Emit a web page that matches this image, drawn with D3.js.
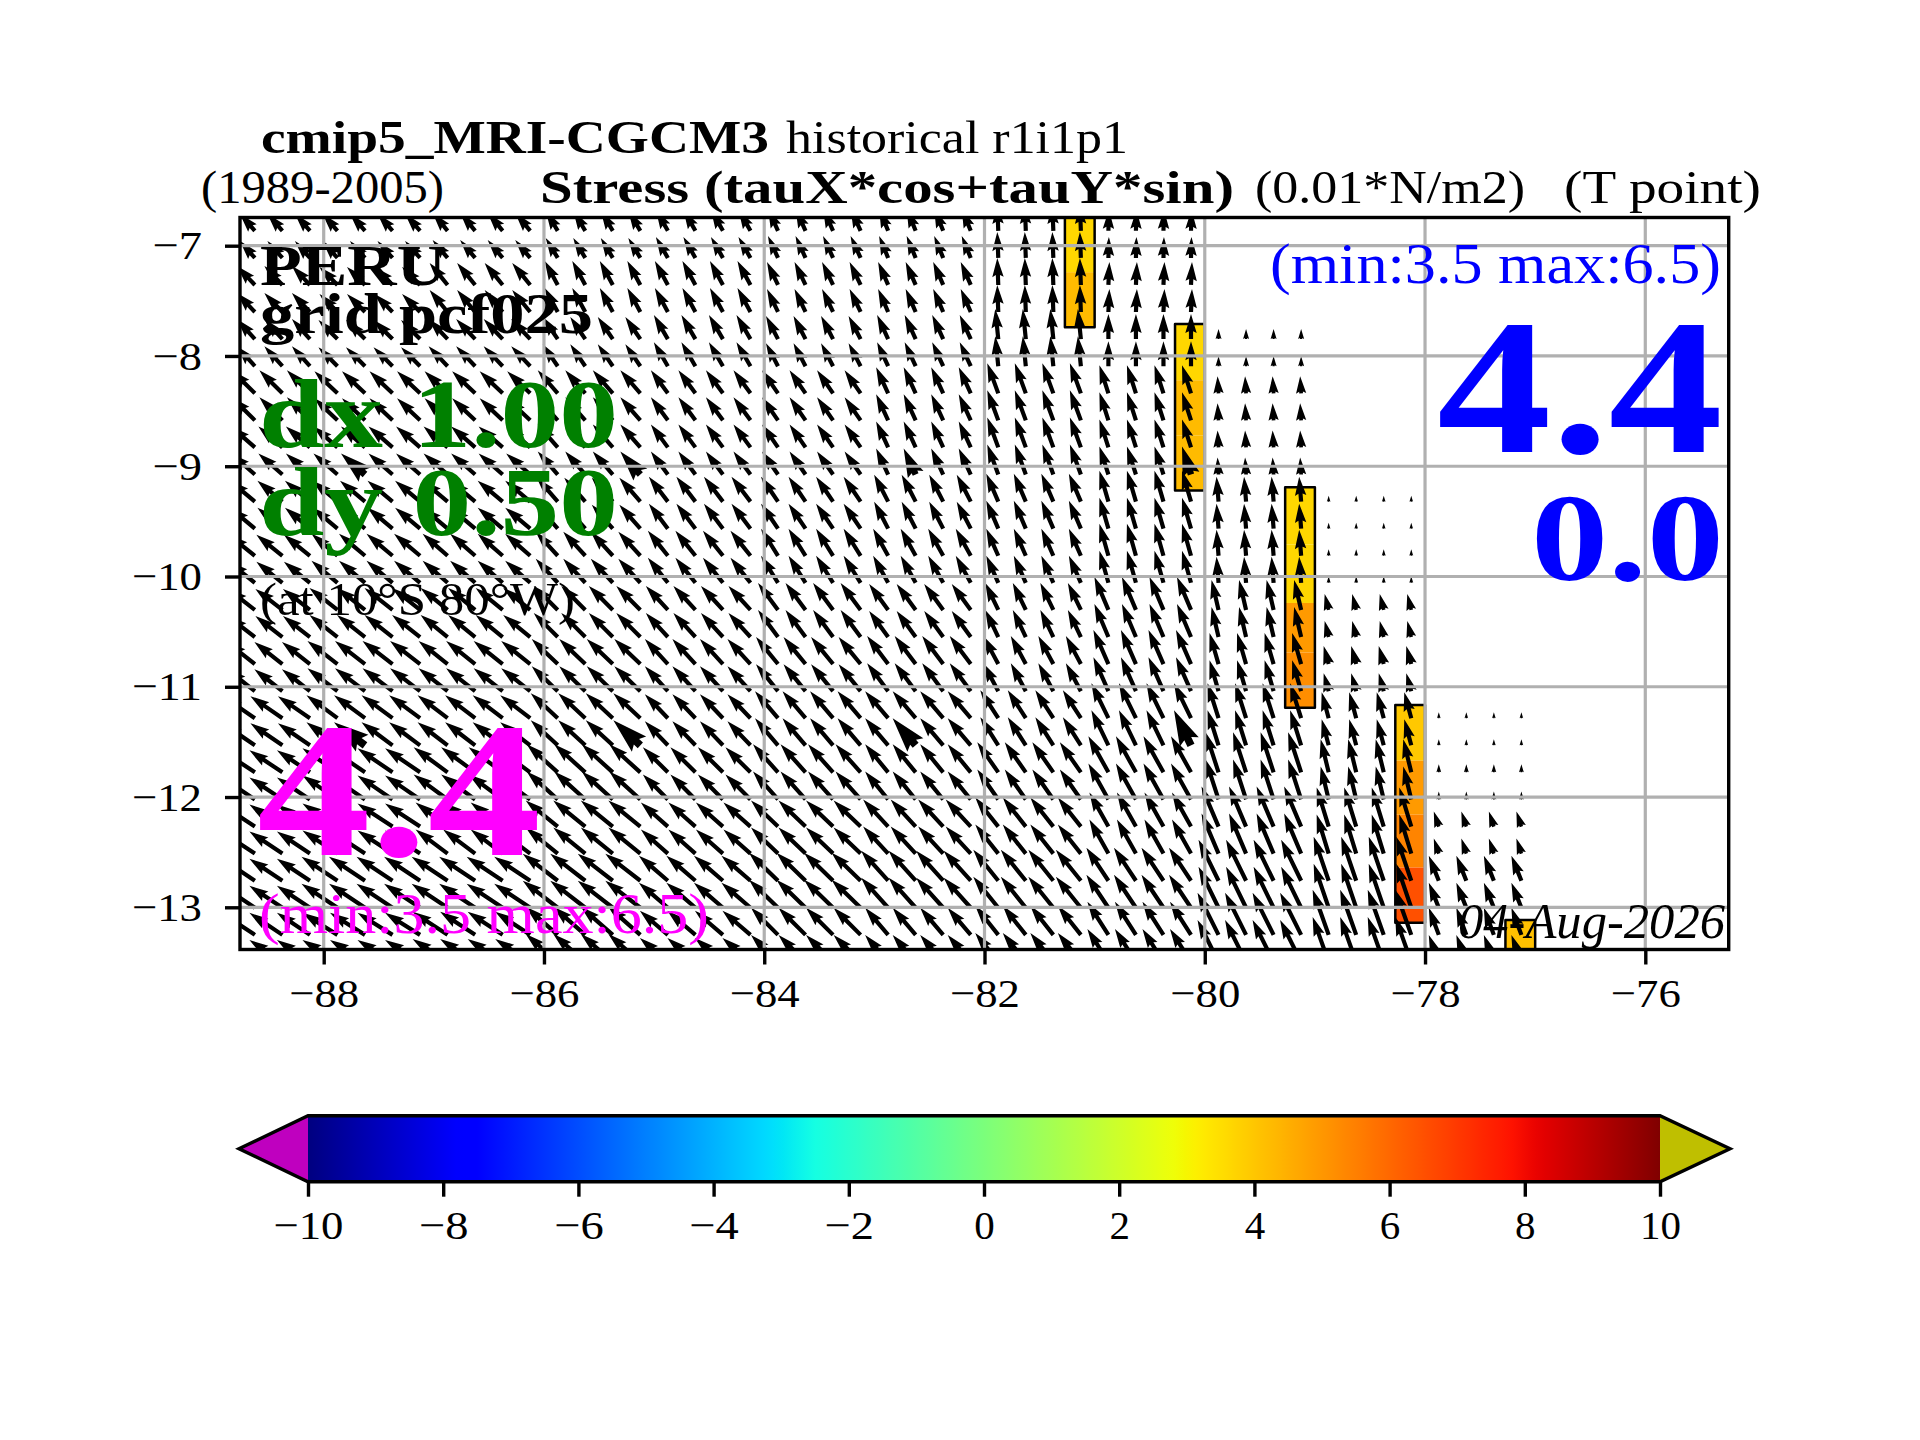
<!DOCTYPE html>
<html>
<head>
<meta charset="utf-8">
<style>
  body { margin: 0; background: #fff; }
  text { font-family: "Liberation Serif", serif; }
</style>
<script src="https://cdn.jsdelivr.net/npm/d3@7"></script>
</head>
<body>
<div id="chart"></div>
<script>
// western edge of each 1 x 0.5 degree cell
var cellLons = [-89, -88, -87, -86, -85, -84, -83, -82, -81, -80, -79, -78];
var colOffsets = [0.125, 0.375, 0.625, 0.875];

// arrow tail latitudes, two rows per band
var rowLats = [-6.865, -7.111, -7.356, -7.601, -7.847, -8.093, -8.339, -8.584, -8.829, -9.075,
  -9.321, -9.566, -9.812, -10.057, -10.303, -10.549, -10.794, -11.040, -11.285, -11.531,
  -11.776, -12.022, -12.268, -12.513, -12.759, -13.004, -13.250, -13.496];

// wind stress components per band (rows) and cell (columns)
var _ = null;
var tauX = [
  [-1.5, -1.5, -1.5, -1.2, -1.2, -1.0, -0.9, -0.1, 0.05, _, _, _],
  [-1.8, -1.8, -1.8, -1.3, -1.3, -1.1, -1.0, -0.1, 0.1, _, _, _],
  [-1.8, -1.9, -1.9, -1.5, -1.4, -1.2, -1.1, -0.3, 0, 0, _, _],
  [-2.3, -2.3, -2.3, -2.0, -1.7, -1.6, -1.2, -1.1, -0.9, -0.1, _, _],
  [-2.4, -2.4, -2.4, -2.0, -1.7, -1.6, -1.2, -1.1, -0.9, -0.1, _, _],
  [-2.5, -2.5, -2.5, -2.1, -1.9, -1.7, -1.4, -1.2, -0.9, -0.2, 0, _],
  [-2.6, -2.6, -2.5, -2.2, -2.0, -1.7, -1.5, -1.2, -0.9, -0.2, 0, _],
  [-2.7, -2.8, -2.7, -2.4, -2.2, -2.0, -1.9, -1.3, -1.4, -0.7, -0.4, _],
  [-2.8, -3.0, -2.9, -2.6, -2.3, -2.2, -2.1, -1.5, -1.5, -0.9, -0.5, _],
  [-3.2, -3.1, -3.0, -2.7, -2.3, -2.3, -2.3, -1.8, -1.7, -1.1, -0.7, 0],
  [-3.3, -3.5, -3.4, -3.1, -2.5, -2.5, -2.3, -2.1, -2.0, -1.3, -0.8, 0],
  [-3.3, -3.5, -3.2, -3.2, -2.7, -2.7, -2.5, -2.3, -1.9, -1.7, -1.2, -0.5],
  [-3.3, -3.6, -3.6, -3.5, -2.9, -2.9, -2.7, -2.5, -2.2, -2.0, -1.5, -1.0],
  [-3.3, -3.5, -3.5, -3.2, -2.8, -2.7, -2.3, -2.3, -2.1, -2.1, -1.6, -1.0]
];
var tauY = [
  [1.7, 1.7, 1.8, 2.0, 2.1, 2.2, 2.2, 2.6, 2.1, _, _, _],
  [1.9, 1.8, 2.2, 2.4, 2.4, 2.3, 2.3, 2.7, 2.3, _, _, _],
  [2.0, 1.9, 2.0, 2.2, 2.4, 2.3, 2.4, 3.0, 2.5, 1.0, _, _],
  [2.3, 2.2, 2.2, 2.3, 2.3, 2.3, 2.6, 3.0, 2.8, 1.7, _, _],
  [2.1, 2.1, 2.1, 2.3, 2.3, 2.3, 2.6, 3.0, 2.8, 1.7, _, _],
  [2.1, 2.1, 2.1, 2.4, 2.5, 2.5, 2.7, 2.8, 3.1, 2.5, 0.6, _],
  [2.1, 2.2, 2.2, 2.4, 2.5, 2.7, 2.7, 2.7, 3.2, 2.6, 0.65, _],
  [2.1, 2.2, 2.2, 2.4, 2.4, 2.7, 2.6, 2.7, 3.3, 3.0, 1.6, _],
  [2.2, 2.3, 2.3, 2.5, 2.5, 2.7, 2.8, 2.8, 3.4, 3.1, 1.8, _],
  [2.2, 2.3, 2.3, 2.5, 2.4, 2.7, 2.7, 2.8, 3.5, 3.5, 2.6, 0.6],
  [2.2, 2.4, 2.5, 2.8, 2.5, 2.8, 2.8, 3.0, 3.6, 4.0, 3.3, 0.8],
  [2.2, 2.3, 2.4, 2.6, 2.4, 2.6, 2.7, 2.9, 3.4, 4.0, 3.9, 1.5],
  [2.2, 2.4, 2.4, 2.7, 2.5, 2.8, 3.0, 3.1, 3.3, 4.1, 4.4, 2.5],
  [2.2, 2.2, 2.3, 2.8, 2.4, 2.7, 2.7, 2.9, 3.3, 4.2, 4.5, 2.7]
];

// heavier arrows, repeated every 2.5 degrees
var boldLons = [-87.625, -85.125, -82.625, -80.125];
var boldRows = [9, 19];

// coastal bars: west edge, latitude edges, projected stress of each segment
var barWests = [-81.27, -80.27, -79.27, -78.27, -77.27];
var barEdges = [
  [-6.6, -7.24, -7.74],
  [-7.71, -8.22, -8.72, -9.22],
  [-9.19, -9.71, -10.24, -10.69, -11.19],
  [-11.165, -11.67, -12.16, -12.64, -13.14],
  [-13.115, -13.6]
];
var barValues = [
  [3.65, 4.25],
  [3.65, 4.25, 4.25],
  [3.65, 3.65, 4.94, 5.2],
  [3.96, 4.94, 5.4, 6.5],
  [4.14]
];

var xTicks = [-88, -86, -84, -82, -80, -78, -76];
var yTicks = [-7, -8, -9, -10, -11, -12, -13];
var cbarTicks = [-10, -8, -6, -4, -2, 0, 2, 4, 6, 8, 10];

// matplotlib jet segments
var jetR = [[0, 0.35, 0.66, 0.89, 1], [0, 0, 1, 1, 0.5]];
var jetG = [[0, 0.125, 0.375, 0.64, 0.91, 1], [0, 0, 1, 1, 0, 0]];
var jetB = [[0, 0.11, 0.34, 0.65, 1], [0.5, 1, 1, 0, 0]];

var width = 1920;
var height = 1440;
var frame = { left: 240, right: 1728.7, top: 217.5, bottom: 949.5 };
var cbar = { left: 308, right: 1660, top: 1115.7, bottom: 1181.7, tipLeft: 239, tipRight: 1730 };

var x = d3.scaleLinear().domain([-88, -76]).range([323.7, 1645.3]);
var y = d3.scaleLinear().domain([-7, -13]).range([245.7, 907.3]);
var arrowLen = d3.scaleLinear().domain([0, 1]).range([0, 10]);

document.addEventListener('DOMContentLoaded', init, false);

function init() {

  var svg = d3.select('#chart')
    .append('svg')
      .attr('width', width)
      .attr('height', height)
      .style('display', 'block');

  svg.append('clipPath')
      .attr('id', 'plot-clip')
    .append('rect')
      .attr('x', frame.left)
      .attr('y', frame.top)
      .attr('width', frame.right - frame.left)
      .attr('height', frame.bottom - frame.top);

  var plot = svg.append('g').attr('clip-path', 'url(#plot-clip)');

  drawBars(plot);
  drawArrows(plot);
  drawGrid(plot);
  drawAxes(svg);
  drawColorbar(svg);
  drawTexts(svg);
}

function jetColor(t) {
  var channel = function (seg) {
    return d3.scaleLinear().domain(seg[0]).range(seg[1])(t) * 255;
  };
  return d3.rgb(channel(jetR), channel(jetG), channel(jetB)).formatHex();
}

function drawBars(plot) {

  var value = d3.scaleLinear().domain([-10, 10]).range([0, 1]);

  barWests.forEach(function (west, i) {
    var edges = barEdges[i];
    var x0 = x(west);
    var x1 = x(west + 0.27);

    barValues[i].forEach(function (v, k) {
      plot.append('rect')
        .attr('x', x0)
        .attr('y', y(edges[k]))
        .attr('width', x1 - x0)
        .attr('height', y(edges[k + 1]) - y(edges[k]))
        .attr('fill', jetColor(value(v)));
    });

    plot.append('rect')
      .attr('x', x0)
      .attr('y', y(edges[0]))
      .attr('width', x1 - x0)
      .attr('height', y(edges[edges.length - 1]) - y(edges[0]))
      .attr('fill', 'none')
      .attr('stroke', 'black')
      .attr('stroke-width', 2.5)
      .attr('stroke-linejoin', 'round');
  });
}

// same proportions as a default matplotlib quiver arrow
function arrowPath(px, py, dx, dy, w) {

  var len = Math.sqrt(dx * dx + dy * dy);
  if (len === 0) { return ''; }

  var headLen = 5 * w;
  var axisLen = 4.5 * w;
  var headW = 1.5 * w;
  var shaftW = 0.55 * w;
  var k = len < headLen ? len / headLen : 1;

  var pts = [
    [0, -shaftW * k],
    [len - axisLen * k, -shaftW * k],
    [len - headLen * k, -headW * k],
    [len, 0],
    [len - headLen * k, headW * k],
    [len - axisLen * k, shaftW * k],
    [0, shaftW * k]
  ];

  var c = dx / len;
  var s = dy / len;

  return d3.line()(pts.map(function (p) {
    return [px + p[0] * c - p[1] * s, py + p[0] * s + p[1] * c];
  })) + 'Z';
}

function drawArrows(plot) {

  var arrows = [];

  rowLats.forEach(function (lat, j) {
    var band = Math.floor(j / 2);
    cellLons.forEach(function (lon, c) {
      if (tauX[band][c] === null) { return; }
      colOffsets.forEach(function (off) {
        var tailLon = lon + off;
        var bold = boldRows.indexOf(j) > -1 && boldLons.indexOf(tailLon) > -1;
        arrows.push({ lon: tailLon, lat: lat, u: tauX[band][c], v: tauY[band][c], bold: bold });
      });
    });
  });

  plot.selectAll('.arrow')
      .data(arrows)
      .enter()
    .append('path')
      .attr('class', 'arrow')
      .attr('fill', 'black')
      .attr('stroke', 'none')
      .attr('d', function (d) {
        return arrowPath(x(d.lon), y(d.lat), arrowLen(d.u), -arrowLen(d.v), d.bold ? 7 : 3.8);
      });
}

function drawGrid(plot) {

  plot.selectAll('.vgrid')
      .data(xTicks)
      .enter()
    .append('line')
      .attr('x1', function (d) { return x(d); })
      .attr('x2', function (d) { return x(d); })
      .attr('y1', frame.top)
      .attr('y2', frame.bottom)
      .attr('stroke', '#b0b0b0')
      .attr('stroke-width', 3.2);

  plot.selectAll('.hgrid')
      .data(yTicks)
      .enter()
    .append('line')
      .attr('x1', frame.left)
      .attr('x2', frame.right)
      .attr('y1', function (d) { return y(d); })
      .attr('y2', function (d) { return y(d); })
      .attr('stroke', '#b0b0b0')
      .attr('stroke-width', 3.2);
}

function tickWidth(d) {
  var digits = String(Math.abs(d)).length;
  return digits * 20.5 + (d < 0 ? 29 : 0);
}

function styleAxis(g) {
  g.select('.domain').remove();
  g.selectAll('line')
    .attr('stroke', 'black')
    .attr('stroke-width', 3.4);
  g.selectAll('text')
    .attr('fill', 'black')
    .style('font-family', '"Liberation Serif", serif')
    .style('font-size', '41px')
    .attr('textLength', function (d) { return tickWidth(d); })
    .attr('lengthAdjust', 'spacingAndGlyphs');
}

function drawAxes(svg) {

  var fmt = d3.format('d');

  svg.append('g')
      .attr('transform', 'translate(0,' + frame.bottom + ')')
      .call(d3.axisBottom(x).tickValues(xTicks).tickFormat(fmt).tickSize(15).tickPadding(13))
      .call(styleAxis);

  svg.append('g')
      .attr('transform', 'translate(' + frame.left + ',0)')
      .call(d3.axisLeft(y).tickValues(yTicks).tickFormat(fmt).tickSize(15).tickPadding(23))
      .call(styleAxis);

  svg.append('rect')
    .attr('x', frame.left)
    .attr('y', frame.top)
    .attr('width', frame.right - frame.left)
    .attr('height', frame.bottom - frame.top)
    .attr('fill', 'none')
    .attr('stroke', 'black')
    .attr('stroke-width', 3.4);
}

function drawColorbar(svg) {

  var c = d3.scaleLinear().domain([-10, 10]).range([cbar.left, cbar.right]);
  var mid = (cbar.top + cbar.bottom) / 2;

  var grad = svg.append('linearGradient').attr('id', 'jet');
  d3.range(0, 1.0001, 1 / 128).forEach(function (t) {
    grad.append('stop')
      .attr('offset', t)
      .attr('stop-color', jetColor(t));
  });

  svg.append('path')
    .attr('d', d3.line()([[cbar.left, cbar.top], [cbar.tipLeft, mid], [cbar.left, cbar.bottom]]) + 'Z')
    .attr('fill', '#bf00bf');

  svg.append('path')
    .attr('d', d3.line()([[cbar.right, cbar.top], [cbar.tipRight, mid], [cbar.right, cbar.bottom]]) + 'Z')
    .attr('fill', '#bfbf00');

  svg.append('rect')
    .attr('x', cbar.left)
    .attr('y', cbar.top)
    .attr('width', cbar.right - cbar.left)
    .attr('height', cbar.bottom - cbar.top)
    .attr('fill', 'url(#jet)');

  svg.append('path')
    .attr('d', d3.line()([
      [cbar.left, cbar.top], [cbar.right, cbar.top], [cbar.tipRight, mid],
      [cbar.right, cbar.bottom], [cbar.left, cbar.bottom], [cbar.tipLeft, mid]
    ]) + 'Z')
    .attr('fill', 'none')
    .attr('stroke', 'black')
    .attr('stroke-width', 3.4);

  svg.append('g')
      .attr('transform', 'translate(0,' + cbar.bottom + ')')
      .call(d3.axisBottom(c).tickValues(cbarTicks).tickFormat(d3.format('d')).tickSize(15).tickPadding(13))
      .call(styleAxis);
}

function label(svg, text, x0, x1, base, size, color, weight, style) {
  svg.append('text')
    .attr('x', x0)
    .attr('y', base)
    .attr('textLength', x1 - x0)
    .attr('lengthAdjust', 'spacingAndGlyphs')
    .attr('fill', color)
    .style('font-size', size + 'px')
    .style('font-weight', weight || 'normal')
    .style('font-style', style || 'normal')
    .text(text);
}

function drawTexts(svg) {

  label(svg, 'cmip5_MRI-CGCM3', 261, 769, 153, 47, 'black', 'bold');
  label(svg, 'historical r1i1p1', 786, 1128, 153, 47, 'black');
  label(svg, '(1989-2005)', 201, 444, 203, 47, 'black');
  label(svg, 'Stress (tauX*cos+tauY*sin)', 540, 1234, 203, 47, 'black', 'bold');
  label(svg, '(0.01*N/m2)', 1255, 1525, 203, 47, 'black');
  label(svg, '(T point)', 1564, 1761, 203, 47, 'black');

  label(svg, 'PERU', 260, 446, 285, 58, 'black', 'bold');
  label(svg, 'grid pcf025', 260, 593, 333, 58, 'black', 'bold');
  label(svg, 'dx 1.00', 259, 618, 447, 97, 'green', 'bold');
  label(svg, 'dy 0.50', 259, 618, 535, 97, 'green', 'bold');
  label(svg, '(at 10\u00b0S 80\u00b0W)', 260, 575, 615, 47, 'black');

  label(svg, '4.4', 257, 541, 855, 192, '#ff00ff', 'bold');
  label(svg, '(min:3.5 max:6.5)', 259, 709, 933, 58, '#ff00ff');

  label(svg, '(min:3.5 max:6.5)', 1270, 1721, 283, 58, 'blue');
  label(svg, '4.4', 1437, 1723, 452, 192, 'blue', 'bold');
  label(svg, '0.0', 1531, 1724, 580, 125, 'blue', 'bold');

  label(svg, '04-Aug-2026', 1458, 1725, 938, 50, 'black', 'normal', 'italic');
}
</script>
</body>
</html>
